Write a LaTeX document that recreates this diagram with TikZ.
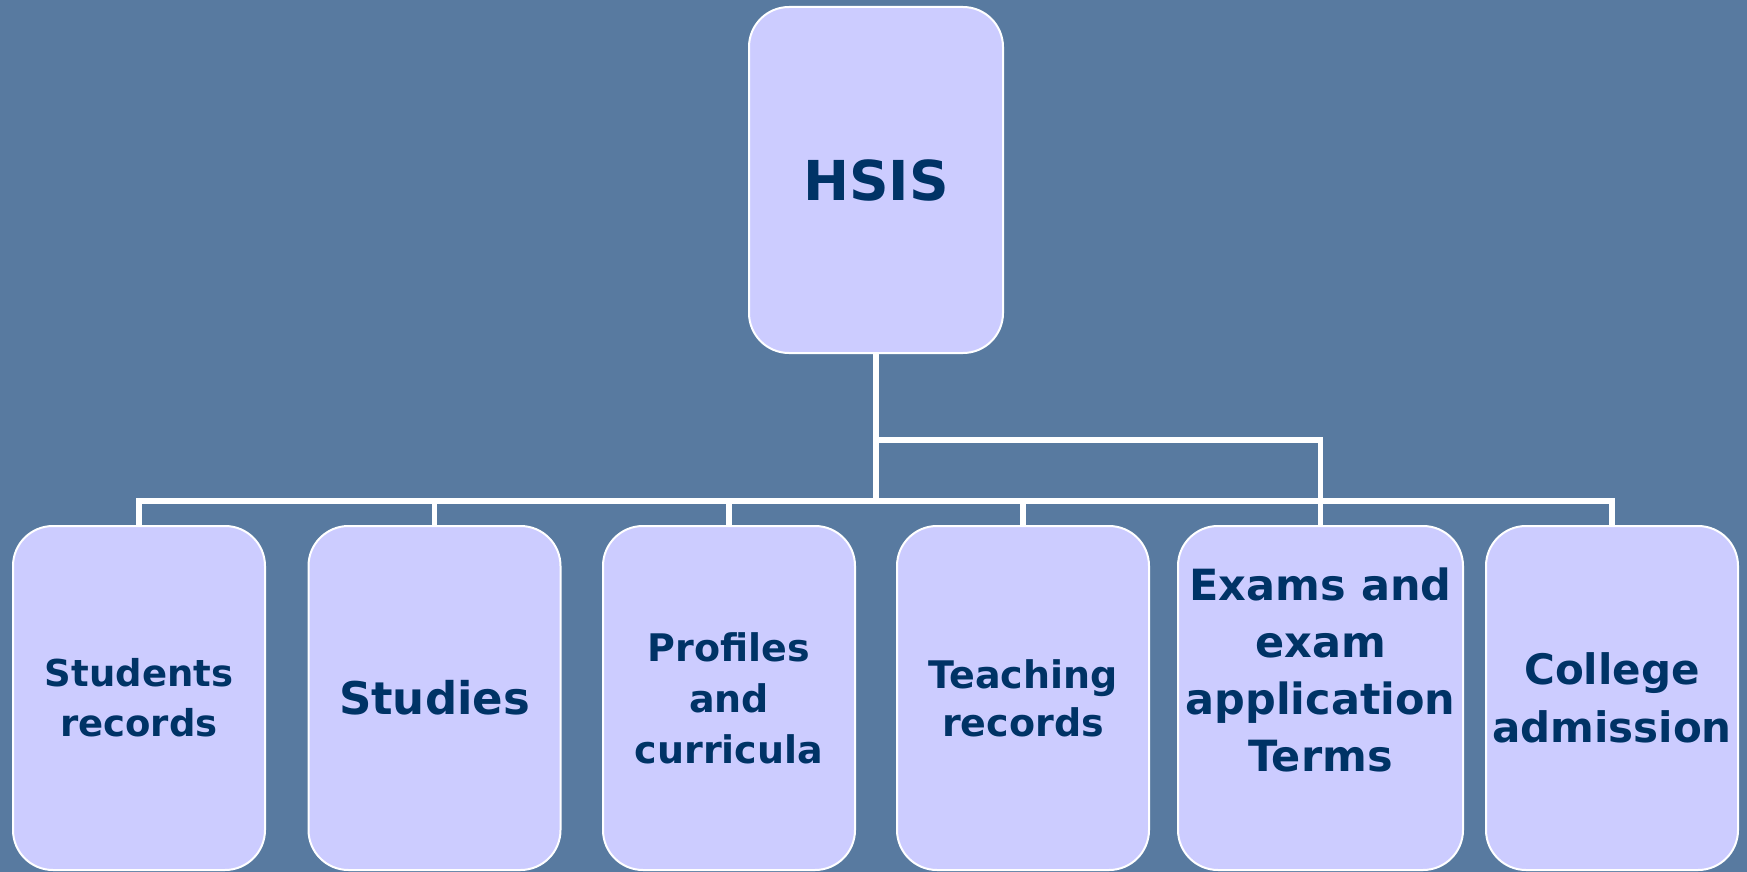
\documentclass[tikz,border=0pt]{standalone}
\usepackage{fontspec}
\setmainfont{DejaVu Sans}
\definecolor{bgblue}{RGB}{88,122,160}
\definecolor{boxfill}{RGB}{204,204,255}
\definecolor{textblue}{RGB}{0,51,102}
\begin{document}
\begin{tikzpicture}[x=1pt,y=-1pt,
  box/.style={draw=white, line width=2pt, fill=boxfill, rounded corners=40pt,
    minimum width=252pt, minimum height=344pt, text=textblue, align=center, inner sep=0pt},
  conn/.style={draw=white, line width=5.5pt},
  fs/.style={font=\bfseries\fontsize{#1}{1.35*#1}\selectfont}]
\fill[bgblue] (0,0) rectangle (1747,872);
\useasboundingbox (0,0) rectangle (1747,872);
\node[box, minimum width=254pt, minimum height=346pt, font=\bfseries\fontsize{55}{66}\selectfont] (hsis) at (876,180) {HSIS};
\node[box, font=\bfseries\fontsize{37}{50}\selectfont] (b1) at (139,698) {Students\\records};
\node[box, font=\bfseries\fontsize{45}{60}\selectfont] (b2) at (434.5,698) {Studies};
\node[box, font=\bfseries\fontsize{38}{51}\selectfont] (b3) at (729,698) {Profiles\\and\\curricula};
\node[box, font=\bfseries\fontsize{38}{48}\selectfont] (b4) at (1023,698) {Teaching\\records};
\node[box, minimum width=285pt, font=\bfseries\fontsize{43}{57}\selectfont] (b5) at (1320.5,698) {Exams and\\exam\\application\\Terms\\\phantom{T}};
\node[box, font=\bfseries\fontsize{42}{58}\selectfont] (b6) at (1612,698) {College\\admission};
\coordinate (bus) at (0,501);
\coordinate (br) at (0,440);
\draw[conn] (hsis.south) -- (hsis.south |- bus);
\draw[conn] (b1.north) |- (b6.north |- bus) -- (b6.north);
\foreach \n in {b2,b3,b4,b5} \draw[conn] (\n.north) -- (\n.north |- bus);
\draw[conn] (hsis.south |- br) -| (b5.north);
\end{tikzpicture}
\end{document}
